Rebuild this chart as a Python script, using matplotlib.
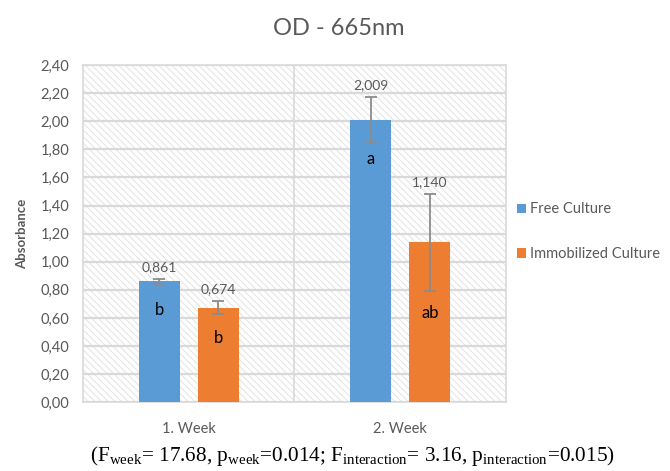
import matplotlib.pyplot as plt
import numpy as np
from matplotlib.patches import Rectangle

plt.rcParams['font.family'] = ['Lato', 'DejaVu Sans']
plt.rcParams['mathtext.fontset'] = 'custom'
plt.rcParams['mathtext.rm'] = 'Liberation Serif'
plt.rcParams['hatch.linewidth'] = 0.7

# data
weeks = ["1. Week", "2. Week"]
series = ["Free Culture", "Immobilized Culture"]
free_vals = [0.861, 2.009]
immo_vals = [0.674, 1.140]
free_err = [0.018, 0.165]
immo_err = [0.047, 0.345]
free_letters = ["b", "a"]
immo_letters = ["b", "ab"]
yticks = np.arange(0, 2.41, 0.2)

blue = '#5b9bd5'
orange = '#ed7d31'
grey_txt = '#595959'
grid_c = '#d9d9d9'

fig = plt.figure(figsize=(6.7, 4.71), dpi=100)
ax = fig.add_axes([0.1239, 0.1459, 0.6313, 0.716])

# hatched background
bg = Rectangle((0, 0), 1, 1, transform=ax.transAxes, facecolor='white',
               edgecolor='#e3e3e3', hatch='\\\\\\\\\\', linewidth=0, zorder=0)
ax.add_patch(bg)

x = np.arange(len(weeks))
w = 0.194
off = 0.14
b1 = ax.bar(x - off, free_vals, w, color=blue, label=series[0], zorder=3)
b2 = ax.bar(x + off, immo_vals, w, color=orange, label=series[1], zorder=3)
ax.errorbar(x - off, free_vals, yerr=free_err, fmt='none', ecolor='#8c8c8c',
            elinewidth=1.3, capsize=4, capthick=1.3, zorder=4)
ax.errorbar(x + off, immo_vals, yerr=immo_err, fmt='none', ecolor='#8c8c8c',
            elinewidth=1.3, capsize=4, capthick=1.3, zorder=4)

# value labels above error bars
for xs, vals, errs in [(x - off, free_vals, free_err), (x + off, immo_vals, immo_err)]:
    for xi, v, e in zip(xs, vals, errs):
        ax.annotate(f"{v:.3f}".replace('.', ','), (xi, v + e), xytext=(0, 4),
                    textcoords='offset points', ha='center', va='bottom',
                    fontsize=10, color=grey_txt, zorder=5)

# letters inside bars
letter_y_free = [0.657, 1.73]
letter_y_immo = [0.458, 0.636]
for xi, ly, t in zip(x - off, letter_y_free, free_letters):
    ax.text(xi, ly, t, ha='center', va='center', fontsize=12, color='black', zorder=5)
for xi, ly, t in zip(x + off, letter_y_immo, immo_letters):
    ax.text(xi, ly, t, ha='center', va='center', fontsize=12, color='black', zorder=5)

ax.set_xlim(-0.5, 1.5)
ax.set_ylim(0, 2.4)
ax.set_yticks(yticks)
ax.set_yticklabels([f"{v:.2f}".replace('.', ',') for v in yticks])
ax.set_xticks(x)
ax.set_xticklabels(weeks)
ax.tick_params(length=0, labelsize=10.5, colors=grey_txt)
ax.tick_params(axis='x', pad=14)
ax.tick_params(axis='y', pad=10)
ax.yaxis.grid(True, color=grid_c, linewidth=1.6, zorder=1)
ax.set_axisbelow(True)
ax.axvline(0.5, color=grid_c, linewidth=1.2, zorder=1)
for s in ax.spines.values():
    s.set_color(grid_c)
    s.set_linewidth(1.2)

ax.set_ylabel("Absorbance", fontsize=9.5, fontweight='bold', color=grey_txt, labelpad=9)

fig.text(0.506, 0.94, "OD - 665nm", ha='center', va='center', fontsize=17, color=grey_txt)

fig.legend(handles=[b1, b2], labels=series, loc='center left',
           bbox_to_anchor=(0.752, 0.508), frameon=False, fontsize=10.5,
           labelcolor=grey_txt, handlelength=0.6, handleheight=0.6,
           handletextpad=0.3, labelspacing=2.1)

fig.text(0.526, 0.032,
         r"(F$_{\mathrm{week}}$= 17.68, p$_{\mathrm{week}}$=0.014; "
         r"F$_{\mathrm{interaction}}$= 3.16, p$_{\mathrm{interaction}}$=0.015)",
         ha='center', va='center', fontsize=15.3, color='black',
         family=['Liberation Serif', 'DejaVu Serif'])

fig.savefig('out.png', dpi=100)
